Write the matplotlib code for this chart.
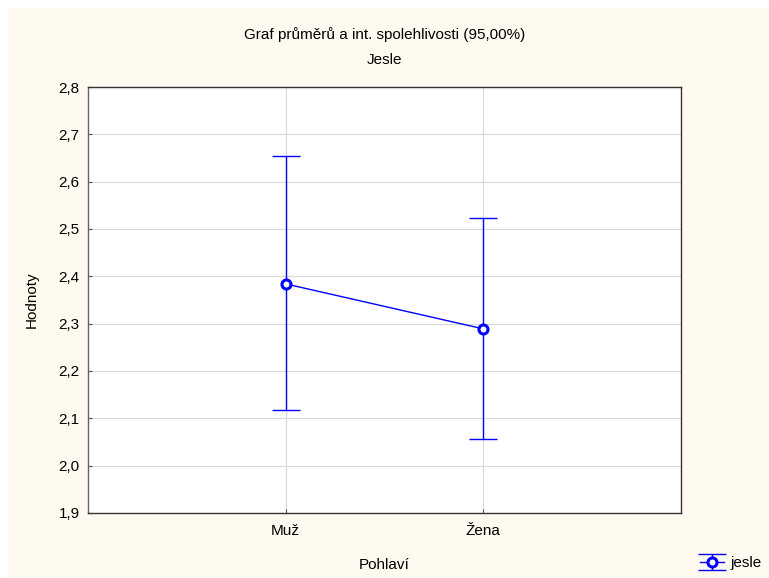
import matplotlib

matplotlib.use("Agg")
import matplotlib.pyplot as plt
from matplotlib.patches import Rectangle

plt.rcParams["font.family"] = ["Liberation Sans", "DejaVu Sans"]

categories = ["Muž", "Žena"]
means = [2.384, 2.289]
upper = [2.654, 2.523]
lower = [2.118, 2.056]
yticks = [1.9, 2.0, 2.1, 2.2, 2.3, 2.4, 2.5, 2.6, 2.7, 2.8]

W, H = 769, 578
FS = 11
fig = plt.figure(figsize=(W / 100, H / 100), dpi=100)
fig.patch.set_facecolor("white")
# cream panel behind everything
fig.patches.append(Rectangle((8 / W, 0), 1, (H - 8) / H, transform=fig.transFigure,
                             facecolor="#fffaf0", edgecolor="none", zorder=-10))

ax = fig.add_axes([88 / W, 1 - 513 / H, (681 - 88) / W, (513 - 87) / H])
ax.set_facecolor("white")

x = [1, 2]
err_lo = [m - l for m, l in zip(means, lower)]
err_hi = [u - m for m, u in zip(means, upper)]
eb = ax.errorbar(x, means, yerr=[err_lo, err_hi], color="#0000ff", lw=1, elinewidth=1,
                 capsize=10, capthick=1, marker="o", ms=6.5, mfc="white", mec="#0000ff",
                 label="jesle", zorder=3)
eb.lines[0].set_markeredgewidth(2.2)

ax.set_xlim(0, 3)
ax.set_ylim(1.9, 2.8)
ax.set_xticks(x)
ax.set_xticklabels(categories)
ax.set_yticks(yticks)
ax.set_yticklabels([f"{t:.1f}".replace(".", ",") for t in yticks])
ax.tick_params(direction="in", length=3, labelsize=FS, color="#555555", pad=6)
ax.tick_params(axis="x", pad=8)
ax.grid(True, color="#d9d9d9", lw=0.8)
ax.set_axisbelow(True)
for s in ax.spines.values():
    s.set_color("#333333")
    s.set_linewidth(1)
ax.spines["left"].set_color("#666666")

ax.set_xlabel("Pohlaví", fontsize=FS, labelpad=14)
ax.set_ylabel("Hodnoty", fontsize=FS, labelpad=14)

fig.text(0.5, 1 - 35 / H, "Graf průměrů a int. spolehlivosti (95,00%)", ha="center",
         va="center", fontsize=FS)
fig.text(0.5, 1 - 60 / H, "Jesle", ha="center", va="center", fontsize=FS)

fig.legend(handles=[eb], labels=["jesle"], loc="lower right", bbox_to_anchor=(1.0, 0.0),
           frameon=False, fontsize=FS, handlelength=1.6, handletextpad=0.4,
           borderaxespad=0.1)

fig.savefig("out.png", dpi=100)
